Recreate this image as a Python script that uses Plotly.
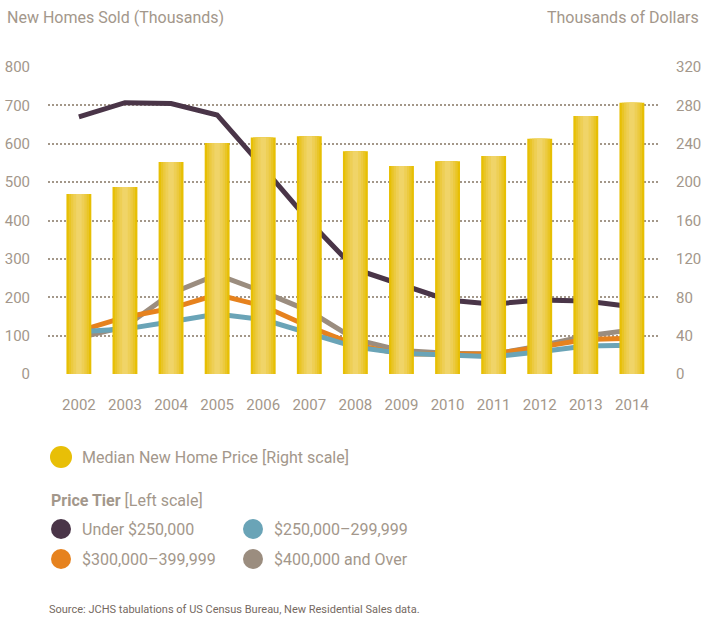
import plotly.graph_objects as go

# data
years = [2002, 2003, 2004, 2005, 2006, 2007, 2008, 2009, 2010, 2011, 2012, 2013, 2014]
median_price = [187.6, 195.0, 221.0, 240.9, 246.5, 247.9, 232.1, 216.7, 221.8, 227.2, 245.2, 268.9, 282.8]
under_250 = [670, 707, 705, 675, 538, 398, 273, 232, 193, 182, 193, 190, 175]
tier_250_299 = [110, 117, 136, 156, 142, 106, 70, 54, 50, 45, 58, 73, 75]
tier_300_399 = [112, 148, 171, 207, 177, 123, 76, 52, 52, 52, 70, 90, 93]
tier_400_up = [94, 123, 210, 259, 214, 164, 90, 61, 54, 52, 73, 99, 115]

left_ticks = [0, 100, 200, 300, 400, 500, 600, 700, 800]
right_ticks = [0, 40, 80, 120, 160, 200, 240, 280, 320]

FONT = "Roboto, Liberation Sans, sans-serif"
GREY_TXT = "#a3978b"
GOLD = "#e8bf07"
PURPLE = "#4a3548"
ORANGE = "#e6821e"
BLUE = "#6aa4b7"
GREY = "#9b8d7f"

W, H = 703, 619
L, R, T, B = 48, 660, 67, 374  # plot area in pixels


def px(x):
    return (x - L) / (R - L)


def py(y):
    return (B - y) / (B - T)


fig = go.Figure()

# bars with a fake horizontal gradient: stacked narrower, lighter layers
layers = [(0.54, "#e7bf04"), (0.44, "#e9c526"), (0.34, "#ecca40"),
          (0.24, "#eecf55"), (0.12, "#f0d468")]
for w, c in layers:
    fig.add_trace(go.Bar(x=years, y=median_price, width=w, marker=dict(color=c, line_width=0),
                         yaxis="y2", showlegend=False, hoverinfo="skip"))

for vals, col, name in [(tier_400_up, GREY, "$400,000 and Over"),
                        (tier_300_399, ORANGE, "$300,000–399,999"),
                        (tier_250_299, BLUE, "$250,000–299,999"),
                        (under_250, PURPLE, "Under $250,000")]:
    fig.add_trace(go.Scatter(x=years, y=vals, mode="lines", name=name,
                             line=dict(color=col, width=5), showlegend=False))

fig.update_layout(
    width=W, height=H,
    margin=dict(l=L, r=W - R, t=T, b=H - B),
    paper_bgcolor="white", plot_bgcolor="white",
    barmode="overlay",
    font=dict(family=FONT, color=GREY_TXT),
    xaxis=dict(range=[2001.33, 2014.61], tickvals=years, showgrid=False, zeroline=False,
               showline=False, ticks="", tickfont=dict(size=15, color=GREY_TXT),
               ticklabelstandoff=20, automargin=False),
    yaxis=dict(range=[0, 800], tickvals=left_ticks, showgrid=True, gridcolor="#a39789",
               gridwidth=2, griddash="2px,2px", zeroline=False, showline=False, ticks="",
               tickfont=dict(size=15, color=GREY_TXT), ticklabelstandoff=17,
               automargin=False),
    yaxis2=dict(range=[0, 320], tickvals=right_ticks, overlaying="y", side="right",
                showgrid=False, zeroline=False, showline=False, ticks="",
                tickfont=dict(size=15, color=GREY_TXT), ticklabelstandoff=15,
                automargin=False),
)

ann = []
shapes = []
ann.append(dict(text="New Homes Sold (Thousands)", x=px(5), y=py(18), xanchor="left",
                yanchor="middle", font=dict(size=16, color=GREY_TXT)))
ann.append(dict(text="Thousands of Dollars", x=px(701), y=py(18), xanchor="right",
                yanchor="middle", font=dict(size=16, color=GREY_TXT)))


def dot(cx, cy, r, color):
    shapes.append(dict(type="circle", xref="paper", yref="paper",
                       x0=px(cx - r), x1=px(cx + r), y0=py(cy + r), y1=py(cy - r),
                       fillcolor=color, line_width=0))


dot(61, 457, 11, GOLD)
ann.append(dict(text="Median New Home Price [Right scale]", x=px(80), y=py(457),
                xanchor="left", yanchor="middle", font=dict(size=16, color=GREY_TXT)))
ann.append(dict(text="<b>Price Tier</b> [Left scale]", x=px(49), y=py(500),
                xanchor="left", yanchor="middle", font=dict(size=16, color=GREY_TXT)))
for cx, cy, col, lab in [(61, 529, PURPLE, "Under $250,000"),
                         (253, 529, BLUE, "$250,000–299,999"),
                         (61, 559, ORANGE, "$300,000–399,999"),
                         (253, 559, GREY, "$400,000 and Over")]:
    dot(cx, cy, 10, col)
    ann.append(dict(text=lab, x=px(cx + 19), y=py(cy), xanchor="left", yanchor="middle",
                    font=dict(size=16, color=GREY_TXT)))

ann.append(dict(text="Source: JCHS tabulations of US Census Bureau, New Residential Sales data.",
                x=px(47), y=py(609), xanchor="left", yanchor="middle",
                font=dict(size=11, color="#75695f")))

for a in ann:
    a.update(xref="paper", yref="paper", showarrow=False)
fig.update_layout(annotations=ann, shapes=shapes)

# drop the default 8px body margin so the figure fills the window
fig.write_html("out.html", config={"displayModeBar": False},
               post_script="document.body.style.margin='0';")
